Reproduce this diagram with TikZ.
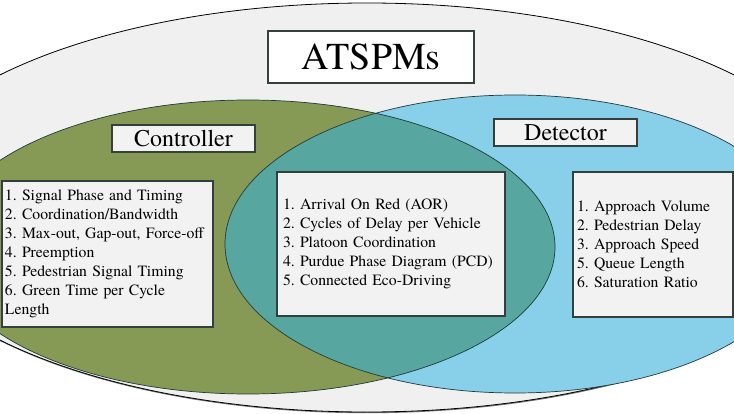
\documentclass[tikz,border=0pt]{standalone}
\usepackage{fontspec}
\setmainfont{texgyretermes}[Extension=.otf, UprightFont=*-regular, BoldFont=*-bold, ItalicFont=*-italic, BoldItalicFont=*-bolditalic]
\frenchspacing
\definecolor{outerbg}{HTML}{F0F0F0}
\definecolor{ctrlgreen}{HTML}{879A55}
\definecolor{detblue}{HTML}{88CFEA}
\definecolor{overlap}{HTML}{58A6A0}
\definecolor{boxfill}{HTML}{F2F2F2}
\definecolor{boxline}{HTML}{34403E}
\definecolor{edgeline}{HTML}{1F3A3A}
\begin{document}
\begin{tikzpicture}[x=1pt,y=-1pt,
  listbox/.style={draw=boxline, fill=boxfill, line width=1.2pt, align=left,
    font=\rmfamily\fontsize{15.7}{19}\selectfont, inner ysep=0pt},
  labelbox/.style={draw=boxline, fill=boxfill, line width=1.2pt,
    minimum width=143pt, minimum height=27pt, inner sep=0pt,
    font=\rmfamily\fontsize{24}{26}\selectfont},
  titlebox/.style={draw=boxline, fill=white, line width=1.2pt,
    minimum width=206pt, minimum height=52pt, inner sep=0pt,
    font=\rmfamily\fontsize{38}{40}\selectfont},
  ellipseedge/.style={draw=edgeline, line width=0.7pt}]
\useasboundingbox (0,0) rectangle (734,414);
\clip (0,0) rectangle (734,414);
\fill[white] (0,0) rectangle (734,414);
% outer ellipse with slight shadow
\fill[black!55] (367.5,208.7) ellipse [x radius=482pt, y radius=204.5pt];
\filldraw[fill=outerbg, draw=black, line width=0.8pt] (367,207.5) ellipse [x radius=482pt, y radius=204.5pt];
% controller and detector ellipses
\fill[ctrlgreen] (248,247) ellipse [x radius=307pt, y radius=147pt];
\fill[detblue] (515,244) ellipse [x radius=290pt, y radius=149pt];
\begin{scope}
  \clip (248,247) ellipse [x radius=307pt, y radius=147pt];
  \fill[overlap] (515,244) ellipse [x radius=290pt, y radius=149pt];
\end{scope}
\draw[ellipseedge] (248,247) ellipse [x radius=307pt, y radius=147pt];
\draw[ellipseedge] (515,244) ellipse [x radius=290pt, y radius=149pt];
% title and labels
\node[titlebox] (title) at (371,57) {ATSPMs};
\node[labelbox] (ctrl) at (183.5,138.5) {Controller};
\node[labelbox] (det) at (565.5,132.5) {Detector};
% list boxes
\node[listbox, minimum width=211pt, minimum height=146pt, inner xsep=3pt, text width=205pt] (boxL) at (107.5,254)
  {1. Signal Phase and Timing\\2. Coordination/Bandwidth\\3. Max-out, Gap-out, Force-off\\4. Preemption\\5. Pedestrian Signal Timing\\6. Green Time per Cycle\\Length};
\node[listbox, minimum width=228pt, minimum height=144pt, inner xsep=6pt, text width=216pt] (boxC) at (391,244)
  {1. Arrival On Red (AOR)\\2. Cycles of Delay per Vehicle\\3. Platoon Coordination\\4. Purdue Phase Diagram (PCD)\\5. Connected Eco-Driving};
\node[listbox, minimum width=160pt, minimum height=145pt, inner xsep=4pt, text width=152pt] (boxR) at (653,244.5)
  {1. Approach Volume\\2. Pedestrian Delay\\3. Approach Speed\\5. Queue Length\\6. Saturation Ratio};
\end{tikzpicture}
\end{document}
